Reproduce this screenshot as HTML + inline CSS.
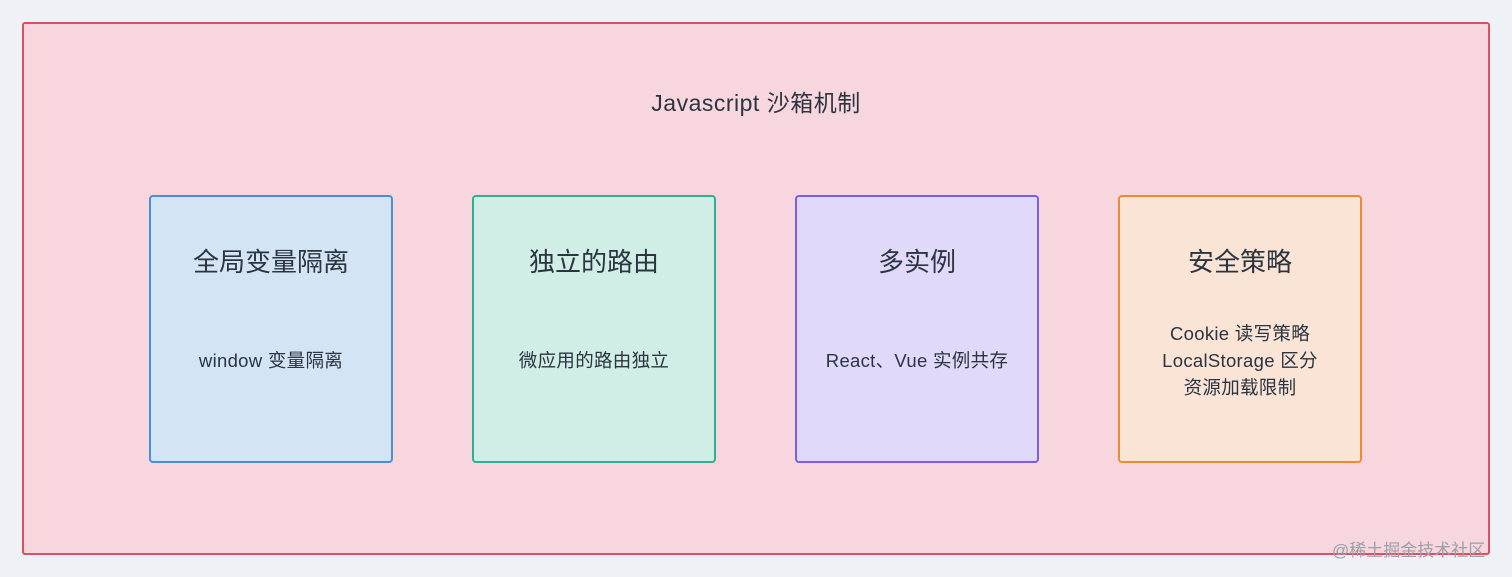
<!DOCTYPE html>
<html><head><meta charset="utf-8"><style>
body{margin:0;width:1512px;height:577px;background:#eef2f6;position:relative;overflow:hidden;font-family:"Liberation Sans","Noto Sans CJK SC",sans-serif;color:#2b3440}
.outer{position:absolute;left:22px;top:22px;width:1464px;height:529px;border:2px solid #d9505f;border-radius:3px;background:#f7d7dd}
.t{position:absolute;left:0;width:1512px;top:84px;text-align:center;font-size:23px;letter-spacing:0.5px}
.b{position:absolute;top:195px;width:240px;height:264px;border:2px solid;border-radius:4px;text-align:center}
.b h{display:block;position:absolute;top:45px;width:100%;font-size:26px}
.b p{position:absolute;top:0;width:100%;margin:0;font-size:18.5px;line-height:27px;letter-spacing:0.3px}
.wm{position:absolute;left:1332px;top:536px;font-size:17px;color:#9aa0a8}
</style></head><body>
<div class="outer"></div>
<div class="t">Javascript 沙箱机制</div>
<div class="b" style="left:149px;border-color:#4a8fd6;background:#d3e5f4"><h>全局变量隔离</h><p style="top:150px">window 变量隔离</p></div>
<div class="b" style="left:472px;border-color:#2fae96;background:#d0eee6"><h>独立的路由</h><p style="top:150px">微应用的路由独立</p></div>
<div class="b" style="left:795px;border-color:#7a5ee8;background:#e0d9fa"><h>多实例</h><p style="top:150px">React、Vue 实例共存</p></div>
<div class="b" style="left:1118px;border-color:#ec8a3a;background:#f9e4d6"><h>安全策略</h><p style="top:123px">Cookie 读写策略<br>LocalStorage 区分<br>资源加载限制</p></div>
<div class="wm">@稀土掘金技术社区</div>
</body></html>
